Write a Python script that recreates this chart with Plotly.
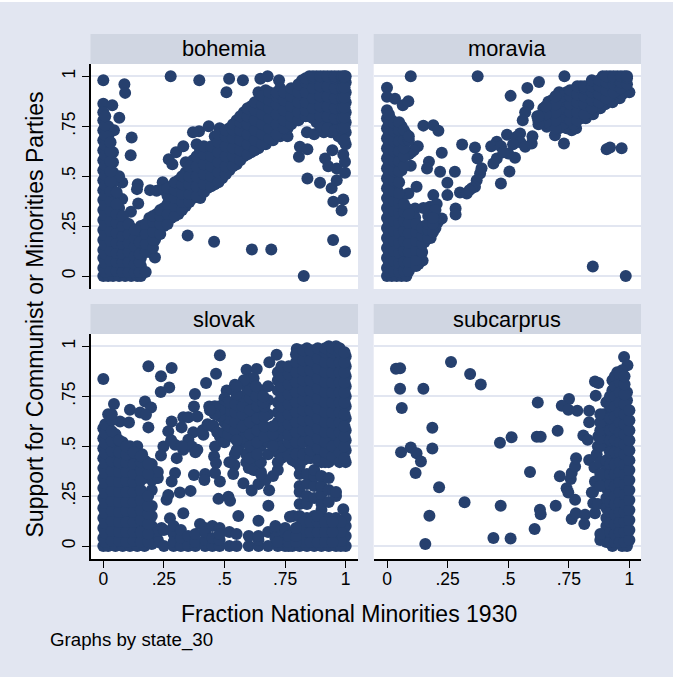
import plotly.graph_objects as go

W, H = 673, 677
NAVY = "#26406E"
BG = "#E2E6F1"
HEAD = "#D0D6E2"
GRID = "#E2E6F1"

panel_names = ["bohemia", "moravia", "slovak", "subcarprus"]
tick_vals = [0, 0.25, 0.5, 0.75, 1]
tick_text = ["0", ".25", ".5", ".75", "1"]
x_title = "Fraction National Minorities 1930"
y_title = "Support for Communist or Minorities Parties"
note = "Graphs by state_30"

bohemia_x = [0,.087,.09,.278,.396,.519,.576,.648,.678,.725,.508,0,.037,.066,.044,.117,.113,.078,.142,.139,.078,.114,.144,.193,.22,.348,.457,.613,.693,.827,.948,.997,.983,.99,.949,.942,.894,.842,.807,.811,.842,.915,.945,.99,.997,.928,.963,.997,.963,.99,.213,.213,.27,.285,.3,.245,.3,.385,.395,.37,.33,.4,.435,.48,.84,.87,.93,.97]
bohemia_y = [.98,.96,.917,1,.98,.988,.98,.988,1,.98,.92,.863,.855,.793,.73,.693,.605,.468,.46,.435,.385,.322,.363,.43,.427,.203,.172,.133,.133,0,.18,.123,.328,.383,.372,.44,.467,.488,.597,.647,.635,.588,.63,.608,.572,.55,.538,.517,.48,.68,.093,.18,.585,.56,.62,.47,.44,.66,.725,.72,.65,.63,.75,.74,.72,.71,.75,.73]
bohemia_cols = [
 (0.0,[0,.04,.09,.13,.18,.23,.28,.33,.38,.43,.48,.53,.58,.63,.68,.73,.78,.82]),
 (.02,[0,.05,.1,.15,.2,.25,.3,.35,.4,.45,.5,.55,.6,.65,.7,.75]),
 (.04,[0,.04,.08,.13,.18,.22,.27,.32,.37,.42,.47,.52,.57,.62]),
 (.065,[0,.05,.09,.14,.19,.24,.29,.34,.5]),
 (.09,[0,.04,.09,.13,.18,.22,.27]),
 (.115,[0,.05,.1,.14,.19,.24]),
 (.14,[0,.04,.08,.12,.17,.2]),
 (.155,[0,.05,.09,.14,.2,.25]),
 (.19,[.12,.16,.2,.25,.29]),
 (.22,[.2,.24,.28,.31]),
 (.25,[.25,.3,.34,.43]),
 (.28,[.29,.33,.37,.41,.45]),
 (.31,[.31,.35,.39,.44,.48]),
 (.34,[.35,.39,.43,.47,.52,.57]),
 (.37,[.39,.44,.48,.53,.58]),
 (.4,[.39,.43,.47,.51,.56,.6,.64]),
 (.43,[.44,.49,.54,.59,.63]),
 (.46,[.46,.5,.55,.6,.65,.7]),
 (.49,[.49,.53,.58,.63,.68,.72]),
 (.52,[.53,.57,.62,.66,.7,.74]),
 (.55,[.56,.61,.66,.7,.75,.78]),
 (.58,[.6,.65,.7,.74,.78,.82]),
 (.61,[.62,.67,.72,.77,.81,.85]),
 (.64,[.64,.69,.74,.79,.84,.88,.92]),
 (.67,[.66,.7,.75,.8,.85,.89,.93]),
 (.7,[.68,.73,.78,.83,.87,.91]),
 (.73,[.7,.75,.8,.85,.9,.94]),
 (.76,[.7,.74,.8,.85,.9]),
 (.79,[.78,.83,.88,.93]),
 (.82,[.8,.85,.9,.95,.98]),
 (.85,[.8,.85,.9,.95,1]),
 (.88,[.77,.82,.87,.92,.97,1]),
 (.91,[.72,.78,.83,.88,.93,.98,1]),
 (.94,[.72,.77,.82,.87,.92,.97,1]),
 (.97,[.7,.75,.8,.85,.9,.95,1]),
 (1.0,[.66,.72,.77,.82,.87,.92,.97,1]),
 (.008,[.02,.065,.11,.155,.205,.255,.305,.355,.405,.455,.505,.555,.605,.655,.705,.755,.8]),
 (.03,[.025,.075,.125,.175,.225,.275,.325,.375,.425,.475,.525,.575,.625,.67]),
 (.055,[.025,.07,.115,.165,.215,.265,.31,.36,.42]),
 (.08,[.02,.07,.11,.16,.2,.25,.3]),
 (.105,[.02,.07,.12,.165,.21,.26]),
 (.13,[.02,.06,.1,.15,.19,.23]),
 (.15,[.02,.07,.11,.17]),
 (.175,[.02,.12,.16,.21,.26]),
 (.205,[.14,.18,.22,.27,.3]),
 (.235,[.21,.26,.3,.33]),
 (.265,[.26,.31,.36,.4,.44]),
 (.295,[.3,.35,.39,.43,.47]),
 (.325,[.33,.37,.41,.46,.5]),
 (.355,[.37,.41,.46,.5,.55]),
 (.385,[.4,.45,.5,.55,.6]),
 (.415,[.42,.46,.51,.56,.61,.65]),
 (.445,[.45,.5,.55,.6,.65]),
 (.475,[.47,.52,.57,.62,.67,.71]),
 (.505,[.51,.55,.6,.65,.7,.73]),
 (.535,[.55,.6,.64,.69,.73,.76]),
 (.565,[.58,.63,.68,.73,.77,.8]),
 (.595,[.61,.66,.71,.76,.8,.84]),
 (.625,[.63,.68,.73,.78,.83,.87]),
 (.655,[.66,.71,.76,.81,.86,.9]),
 (.685,[.69,.74,.79,.84,.88,.92]),
 (.715,[.71,.76,.81,.86,.9,.92]),
 (.745,[.74,.78,.83,.88,.92]),
 (.775,[.76,.8,.85,.9,.94]),
 (.805,[.78,.82,.87,.92,.96]),
 (.835,[.8,.83,.87,.92,.97,.99]),
 (.865,[.79,.84,.89,.94,.99,1]),
 (.895,[.75,.8,.85,.9,.95,1]),
 (.925,[.74,.8,.85,.9,.95,1]),
 (.955,[.73,.79,.84,.89,.94,.99,1]),
 (.985,[.69,.74,.79,.84,.89,.94,.99,1]),
 (.995,[.68,.745,.795,.845,.895,.945,.995,1]),
]

moravia_x = [.098,.374,0,0,.033,.065,.088,.15,.191,.212,.31,.363,.373,.226,.127,.098,.173,.165,.219,.28,.249,.122,.088,.191,.249,.301,.329,.283,.283,.116,.116,.177,.226,.147,.849,.985,.906,.92,.968,.73,.47,.505,.384,.37,.363,.439,.453,.528,.5,.453,.495,.51,.579,.627,.732,.583,.57,.56,.549,.535,.55,.57,.597,.6,.624,.659,.693,.741,.762,.666,.645,.62,.1,.11,.09,.43,.47,.48,.52,.39,.35,.34,.205,.2,.17,.15,.21,.78,.82,.85,.88,.9,.93,.96,.97,1.0]
moravia_y = [1,1,.943,.897,.888,.855,.875,.753,.755,.727,.658,.643,.588,.617,.65,.552,.572,.538,.522,.522,.467,.447,.413,.405,.405,.418,.413,.338,.308,.338,.293,.347,.288,.077,.048,0,.635,.643,.64,.663,.463,.523,.513,.48,.447,.563,.588,.592,.613,.672,.707,.902,.942,.972,1,.855,.82,.78,.714,.697,.67,.647,.663,.7,.78,.747,.705,.74,.73,.872,.84,.8,.62,.63,.61,.65,.65,.62,.66,.54,.44,.43,.36,.33,.3,.34,.27,.74,.79,.81,.84,.86,.87,.89,.91,.92]
moravia_cols = [
 (0.0,[0,.04,.09,.14,.19,.24,.29,.34,.39,.44,.49,.54,.59,.64,.69,.74,.79,.83]),
 (.02,[0,.05,.1,.15,.2,.25,.3,.35,.4,.45,.5,.55,.6,.65,.7,.75,.78]),
 (.04,[0,.04,.09,.14,.19,.24,.29,.34,.39,.44,.5,.55,.6,.65,.7,.76]),
 (.06,[0,.05,.1,.15,.2,.25,.3,.38,.53,.62,.66,.7,.75]),
 (.08,[0,.04,.09,.14,.19,.24,.29,.34,.71]),
 (.105,[.05,.1,.15,.2,.25]),
 (.13,[.06,.11,.16,.2,.25]),
 (.155,[.17,.22,.25]),
 (.18,[.19,.24,.27]),
 (.2,[.24,.28]),
 (.71,[.74,.78,.82,.87,.92]),
 (.74,[.76,.8,.84,.88,.92]),
 (.77,[.76,.8,.85,.89,.93]),
 (.8,[.79,.84,.88,.92,.95]),
 (.83,[.82,.86,.9,.94]),
 (.86,[.85,.89,.93,.97]),
 (.89,[.88,.92,.96,1]),
 (.92,[.9,.94,.98,1]),
 (.95,[.93,.97,1]),
 (.98,[.95,.98,1]),
 (.68,[.78,.82,.85,.88]),
 (.008,[.02,.065,.115,.165,.215,.265,.315,.365,.415,.465,.515,.565,.615,.665,.715,.765,.81]),
 (.03,[.025,.075,.125,.175,.225,.275,.325,.375,.425,.475,.525,.575,.625,.675,.725,.765]),
 (.05,[.02,.065,.115,.165,.215,.265,.315,.365,.415,.47,.525,.575,.625,.675,.73,.77]),
 (.07,[.025,.07,.125,.175,.225,.275,.32,.36,.55,.6,.64,.68,.73]),
 (.09,[.025,.07,.12,.165,.215,.265,.31,.68,.7]),
 (.12,[.05,.08,.13,.175,.22,.26]),
 (.145,[.12,.16,.2,.24]),
 (.17,[.19,.23,.26]),
 (.19,[.22,.26,.29]),
 (.725,[.76,.8,.84,.88,.9]),
 (.755,[.78,.82,.86,.9,.93]),
 (.785,[.78,.82,.87,.91,.95]),
 (.815,[.81,.86,.9,.94,.95]),
 (.845,[.84,.88,.92,.95,.98]),
 (.875,[.87,.91,.95,.98]),
 (.905,[.89,.93,.97,1]),
 (.935,[.92,.96,.99,1]),
 (.965,[.94,.97,1]),
 (.99,[.96,.99,1]),
 (.695,[.74,.78,.82,.86,.9]),
 (.655,[.77,.81,.85]),
 (.625,[.76,.8]),
]

slovak_x = [0,.186,.282,.238,.272,.237,.481,.465,.424,.378,.374,.437,.172,.197,.044,.11,.152,.176,.186,.069,.106,.282,.268,.323,.33,.351,.388,.371,.413,.454,.481,.248,.238,.296,.303,.33,.351,.388,.365,.461,.457,.465,.543,.541,.536,.296,.374,.42,.417,.461,.481,.578,.612,.64,.684,.475,.516,.523,.681,.557,.64,.33,.275,.399,.261,.268,.316,.36,.282,.77,.784,.99,.591,.633,.685,.715,.798,.509,.543,.598,.14,.28,.325,.38,.41,.43,.45,.47,.52,.6,.65,.67,.7,.72,.24,.21,.19,.18,.16,.13,.155,.2,.22]
slovak_y = [.836,.9,.891,.85,.794,.771,.955,.863,.816,.761,.699,.699,.724,.694,.711,.682,.669,.657,.594,.624,.619,.624,.574,.594,.645,.645,.649,.569,.557,.602,.548,.498,.453,.507,.44,.482,.532,.482,.498,.498,.448,.415,.46,.406,.361,.365,.356,.361,.331,.365,.323,.314,.278,.311,.279,.236,.247,.226,.201,.15,.127,.164,.139,.11,.231,.256,.268,.276,.323,.147,.15,.184,.883,.886,.92,.958,.987,.779,.808,.833,.5,.53,.5,.47,.58,.61,.6,.57,.42,.39,.37,.33,.35,.38,.09,.05,.04,.42,.46,.44,.37,.39,.34]
slovak_cols = [
 (0.0,[0,.04,.09,.14,.19,.24,.29,.34,.39,.44,.49,.54,.59]),
 (.02,[0,.05,.1,.15,.2,.25,.3,.35,.4,.45,.5,.55,.6,.66]),
 (.05,[0,.04,.09,.14,.19,.24,.29,.34,.39,.44,.5,.56]),
 (.08,[0,.05,.1,.15,.2,.25,.3,.35,.4,.47,.52]),
 (.11,[0,.04,.09,.14,.19,.24,.29,.34,.38,.44,.5]),
 (.14,[0,.05,.1,.15,.2,.25,.3,.35,.4,.46]),
 (.17,[0,.03,.08,.13,.18,.34,.39,.43]),
 (.2,[.01,.1,.15,.2,.28,.33,.37,.41]),
 (.225,[.03,.07,.34,.37,.02]),
 (.25,[0,.08]),(.29,[0,.06,.1,.02]),(.32,[0,.04,.08]),(.35,[0,.05]),(.38,[0,.02,.06]),
 (.42,[0,.03,.09,.07]),(.45,[0,.04,.1]),(.48,[0,.03,.09,.06]),(.52,[0,.07]),(.55,[0,.06]),
 (.6,[0,.05]),(.64,[0,.03,.05]),(.68,[0,.07]),(.71,[.08,.04,.1]),
 (.75,[0,.04,.07,.09]),
 (.78,[0,.03,.06]),
 (.81,[0,.05,.1,.15,.21,.27,.3,.36,.4]),
 (.84,[0,.04,.09,.14,.21,.25,.31,.36]),
 (.87,[0,.05,.1,.15,.24,.3,.35,.38]),
 (.9,[0,.04,.09,.13,.18,.21,.26,.3,.35]),
 (.93,[0,.05,.1,.14,.22,.28,.34]),
 (.96,[0,.04,.09,.14,.25,.27]),
 (1.0,[0,.05,.1,.14,.42,.48,.53,.58,.64,.7,.75,.8,.85,.9,.95]),
 (.5,[.52,.57,.62,.67,.7,.74]),
 (.53,[.55,.6,.65,.69,.72]),
 (.56,[.5,.56,.63,.68,.73]),
 (.59,[.42,.46,.52,.58,.64,.7,.76,.8]),
 (.62,[.38,.43,.48,.53,.6,.66,.72,.84]),
 (.65,[.36,.42,.5,.56,.62,.68,.78]),
 (.68,[.46,.52,.58,.66,.73,.8]),
 (.72,[.42,.47,.54,.62,.67,.72,.78,.83,.87]),
 (.75,[.48,.58,.63,.68,.73,.78,.83,.88]),
 (.78,[.43,.5,.54,.59,.64,.69,.74,.79,.84,.89]),
 (.81,[.43,.48,.55,.6,.65,.7,.75,.8,.85,.9,.95,.98]),
 (.84,[.44,.56,.61,.66,.71,.76,.81,.86,.91,.96,.99]),
 (.87,[.45,.5,.55,.6,.65,.7,.75,.8,.85,.9,.95,.98]),
 (.9,[.42,.47,.52,.57,.62,.67,.72,.77,.82,.87,.92,.97]),
 (.93,[.42,.48,.55,.6,.65,.7,.75,.8,.85,.9,.95,1]),
 (.96,[.44,.49,.55,.6,.65,.7,.75,.8,.85,.9,.95,1]),
 (.008,[.02,.065,.115,.165,.215,.265,.315,.365,.415,.465,.515,.565,.61]),
 (.035,[.025,.075,.125,.175,.225,.275,.325,.375,.425,.475,.525,.575,.63,.66]),
 (.065,[.025,.07,.12,.17,.22,.27,.32,.37,.42,.47,.53]),
 (.095,[.02,.07,.12,.175,.22,.27,.325,.37,.42,.46,.5]),
 (.125,[.025,.07,.12,.17,.22,.27,.32,.36,.41,.47]),
 (.155,[.02,.07,.13,.18,.23,.28,.33,.38,.42,.45]),
 (.185,[.02,.06,.11,.16,.2,.25,.36,.41]),
 (.735,[.44,.5,.56,.6,.65,.7,.75,.8,.85,.9]),
 (.765,[.45,.52,.56,.61,.66,.71,.76,.81,.86,.9]),
 (.795,[.42,.46,.52,.57,.62,.67,.72,.77,.82,.87,.92,.96]),
 (.825,[.43,.46,.52,.58,.63,.68,.73,.78,.83,.88,.93,.98]),
 (.855,[.44,.48,.53,.58,.63,.68,.73,.78,.83,.88,.93,.98]),
 (.885,[.43,.49,.54,.59,.64,.69,.74,.79,.84,.89,.94,.99]),
 (.915,[.42,.47,.52,.57,.62,.67,.72,.77,.82,.87,.92,.97,.99]),
 (.945,[.45,.5,.57,.62,.67,.72,.77,.82,.87,.92,.97,.99]),
 (.975,[.42,.47,.52,.57,.62,.67,.72,.77,.82,.87,.92,.97,.99]),
 (.995,[.44,.5,.55,.6,.66,.72,.77,.82,.87,.92,.97]),
 (.98,[0,.025,.07,.12]),
 (.825,[.02,.07,.12]),
 (.855,[.02,.07,.12]),
 (.885,[.02,.07,.12,.15]),
 (.915,[.02,.07,.12]),
 (.945,[.02,.07,.12]),
 (.72,[0,.02]),
 (.765,[0,.02,.05]),
 (.795,[.02,.05,.09]),
 (.515,[.56,.6,.64,.68,.72]),
 (.545,[.58,.62,.67,.71]),
 (.575,[.54,.6,.66,.7,.75]),
 (.605,[.44,.5,.56,.62,.68,.74,.78]),
 (.635,[.46,.52,.58,.64,.7]),
 (.665,[.55,.6,.65,.7]),
 (.48,[.65,.7,.68]),
 (.46,[.7,.66]),
 (.44,[.68]),
 (.63,[.75,.8]),
 (.58,[.83]),
 (.66,[.72,.75]),
 (.7,[.5,.56,.6]),
 (.55,[.48,.53,.76,.8]),
]

subcarpus_x = [.037,.054,.054,.15,.061,.264,.343,.387,.187,.098,.058,.122,.187,.14,.118,.215,.32,.175,.158,.466,.514,.618,.634,.704,.622,.751,.721,.748,.785,.59,.713,.758,.762,.776,.78,.741,.748,.776,.696,.469,.631,.634,.762,.779,.817,.814,.609,.439,.51,.858,.872,.861,.834,.834,.81,.828,.834,.856,.858,.845,.851,.858,.883,.978,.992,.895,.89,.885,.872,.87,.865,.88,.85,.87,.9]
subcarpus_y = [.888,.89,.788,.788,.691,.921,.861,.809,.592,.493,.47,.465,.488,.423,.366,.294,.219,.152,.01,.517,.545,.547,.547,.577,.719,.736,.702,.682,.677,.37,.349,.336,.365,.398,.44,.289,.268,.231,.201,.201,.181,.159,.135,.164,.156,.11,.085,.04,.038,.824,.816,.753,.677,.62,.553,.532,.431,.393,.323,.268,.214,.164,.047,.946,.905,.66,.61,.58,.55,.5,.46,.42,.27,.21,.36]
subcarpus_cols = [
 (.905,[.02,.06,.1,.14,.19,.24,.29,.33,.38,.43,.5,.55,.6,.66,.72]),
 (.93,[0,.04,.09,.13,.18,.23,.27,.33,.38,.44,.5,.56,.62,.67,.72,.78,.83]),
 (.95,[.02,.06,.11,.15,.2,.25,.3,.35,.4,.45,.5,.55,.6,.65,.7,.75,.8,.85,.87]),
 (.97,[0,.05,.09,.14,.19,.24,.29,.34,.39,.44,.49,.54,.59,.64,.69,.74,.79,.84,.88]),
 (.99,[0,.04,.09,.13,.18,.22,.27,.32,.36,.41,.46,.5,.55,.6,.64,.68,.73,.77]),
 (.88,[.03,.06,.3,.36,.5,.54,.58,.62,.66]),
 (.92,[.02,.07,.12,.17,.22,.26,.31,.36,.41,.47,.53,.58,.64,.7,.75]),
 (.94,[.02,.06,.11,.16,.21,.25,.3,.36,.41,.47,.53,.59,.65,.7,.75,.8,.85]),
 (.96,[.02,.07,.12,.17,.22,.27,.32,.37,.42,.47,.52,.57,.62,.67,.72,.77,.82,.86]),
 (.98,[.02,.07,.12,.17,.21,.26,.31,.36,.41,.46,.51,.56,.61,.66,.71,.76,.81,.85]),
 (1.0,[.03,.08,.13,.18,.23,.28,.33,.38,.43,.48,.53,.58,.63,.68]),
]


def flatten(xs, ys, cols):
    out_x, out_y = list(xs), list(ys)
    for cx, cy in cols:
        for v in cy:
            out_x.append(cx)
            out_y.append(v)
    return out_x, out_y


panel_data = [
    flatten(bohemia_x, bohemia_y, bohemia_cols),
    flatten(moravia_x, moravia_y, moravia_cols),
    flatten(slovak_x, slovak_y, slovak_cols),
    flatten(subcarpus_x, subcarpus_y, subcarpus_cols),
]

# pixel rectangles of plot regions: left, right, top, bottom
rects = [(90.5, 358, 64, 289), (373.7, 641, 64, 289), (90.5, 358, 334, 559), (373.7, 641, 334, 559)]
x0px = [103.3, 387, 103.3, 387]
y0px = [276, 276, 546, 546]
xscale, yscale = 242.4, 199.7

fig = go.Figure()
layout = {}
shapes, annotations = [], []
shapes.append(dict(type="rect", xref="paper", yref="paper", x0=0, x1=1, y0=1 - 2 / H, y1=1,
                   fillcolor="white", line=dict(width=0), layer="below"))
for i, (name, (px, py), r) in enumerate(zip(panel_names, panel_data, rects)):
    sfx = "" if i == 0 else str(i + 1)
    fig.add_trace(go.Scatter(x=px, y=py, mode="markers", xaxis="x" + sfx, yaxis="y" + sfx,
                             marker=dict(color=NAVY, size=12, line=dict(width=0)),
                             showlegend=False, hoverinfo="skip"))
    left, right, top, bot = r
    bottom_row = i >= 2
    left_col = i % 2 == 0
    layout["xaxis" + sfx] = dict(
        domain=[left / W, right / W], anchor="y" + sfx,
        range=[(left - x0px[i]) / xscale, (right - x0px[i]) / xscale],
        tickvals=tick_vals, ticktext=tick_text, showgrid=False, zeroline=False,
        showticklabels=bottom_row, ticks="outside" if bottom_row else "",
        ticklen=7, tickwidth=1, tickcolor="black", showline=bottom_row,
        linecolor="black", linewidth=1.5, ticklabelstandoff=-4,
        tickfont=dict(family="Liberation Sans", size=17.5, color="black"),
    )
    layout["yaxis" + sfx] = dict(
        domain=[1 - bot / H, 1 - top / H], anchor="x" + sfx,
        range=[(y0px[i] - bot) / yscale, (y0px[i] - top) / yscale],
        tickvals=tick_vals, ticktext=tick_text, showgrid=True, gridcolor=GRID, gridwidth=1.5,
        zeroline=False, showticklabels=left_col, ticks="outside" if left_col else "",
        ticklen=7, tickwidth=1, tickcolor="black", showline=left_col,
        linecolor="black", linewidth=1.5, tickangle=-90,
        tickfont=dict(family="Liberation Sans", size=17.5, color="black"),
    )
    shapes.append(dict(type="rect", xref="paper", yref="paper", x0=left / W, x1=right / W,
                       y0=1 - top / H, y1=1 - (top - 30) / H, fillcolor=HEAD, line=dict(width=0), layer="below"))
    annotations.append(dict(text=name, x=(left + right) / 2 / W, y=1 - (top - 15) / H, xref="paper", yref="paper",
                            showarrow=False, xanchor="center", yanchor="middle",
                            font=dict(family="Liberation Sans", size=21.8, color="black")))

annotations.append(dict(text=x_title, x=349 / W, y=1 - 613.5 / H, xref="paper", yref="paper", showarrow=False,
                        xanchor="center", yanchor="middle", font=dict(family="Liberation Sans", size=23, color="black")))
annotations.append(dict(text=y_title, x=34 / W, y=1 - 314.5 / H, xref="paper", yref="paper", showarrow=False, textangle=-90,
                        xanchor="center", yanchor="middle", font=dict(family="Liberation Sans", size=23, color="black")))
annotations.append(dict(text=note, x=48 / W, y=1 - 640 / H, xref="paper", yref="paper", showarrow=False,
                        xanchor="left", yanchor="middle", font=dict(family="Liberation Sans", size=18.7, color="black")))

fig.update_layout(width=W, height=H, margin=dict(l=0, r=0, t=0, b=0), paper_bgcolor=BG, plot_bgcolor="white",
                  shapes=shapes, annotations=annotations, **layout)
fig.write_html("out.html", config={"displayModeBar": False},
               post_script="document.body.style.margin='0';document.body.style.background='#E2E6F1';")
